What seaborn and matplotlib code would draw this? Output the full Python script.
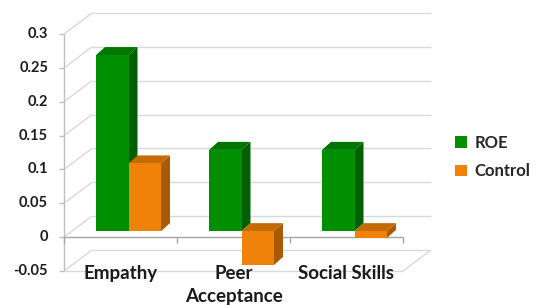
import matplotlib
matplotlib.use("Agg")
import matplotlib.pyplot as plt
import matplotlib.transforms as mtransforms
from matplotlib.patches import Polygon
import seaborn as sns
import pandas as pd

# Mean change scores per outcome
categories = ["Empathy", "Peer\nAcceptance", "Social Skills"]
series = ["ROE", "Control"]
roe = [0.26, 0.12, 0.12]
control = [0.10, -0.05, -0.01]
yticks = [-0.05, 0, 0.05, 0.1, 0.15, 0.2, 0.25, 0.3]
ytick_labels = ["-0.05", "0", "0.05", "0.1", "0.15", "0.2", "0.25", "0.3"]

df = pd.DataFrame({
    "Category": categories * 2,
    "Value": roe + control,
    "Group": [series[0]] * len(roe) + [series[1]] * len(control),
})

front_colors = {"ROE": "#008f00", "Control": "#f0820a"}
side_colors = {"ROE": "#005f00", "Control": "#a85a05"}
top_colors = {"ROE": "#007500", "Control": "#c46a06"}
grid_color = "#d9d9d9"

sns.set_style("white")
plt.rcParams["font.family"] = ["Lato", "DejaVu Sans"]

W, H = 538, 306
fig = plt.figure(figsize=(W / 100, H / 100), dpi=100)
ax = fig.add_axes([72 / W, 41 / H, 339 / W, 237 / H])

sns.barplot(data=df, x="Category", y="Value", hue="Group", palette=front_colors,
            width=0.575, saturation=1, errorbar=None, linewidth=0,
            edgecolor="none", ax=ax)
ax.set_xlim(-0.5, 2.5)
ax.set_ylim(-0.05, 0.3)
ax.set_axis_off()

handles, labels = ax.get_legend_handles_labels()
if ax.get_legend() is not None:
    ax.get_legend().remove()


def plane(dx, dy):
    # pixel offset of a depth plane relative to the bar plane
    return ax.transData + mtransforms.ScaledTranslation(dx / 100, dy / 100, fig.dpi_scale_trans)


front = plane(-8, -6)
back = plane(20, 15)
ident = mtransforms.IdentityTransform()
x0, x1 = -0.5, 2.5
ymin = yticks[0]


def line(p, q, color=grid_color, lw=1.0, z=0.5):
    ax.plot([p[0], q[0]], [p[1], q[1]], color=color, lw=lw, zorder=z,
            transform=ident, clip_on=False, solid_capstyle="butt")


# walls
for t in yticks:
    a = front.transform((x0, t))
    b = back.transform((x0, t))
    c = back.transform((x1, t))
    line(a, b)
    line(b, c)
    line((a[0] - 5, a[1]), a, color="#bfbfbf")

# front axis and floor
line(front.transform((x0, ymin)), front.transform((x0, yticks[-1])), color="#bfbfbf")
line(front.transform((x0, ymin)), front.transform((x1, ymin)))
line(front.transform((x1, ymin)), back.transform((x1, ymin)))
line(front.transform((x0, 0)), front.transform((x1, 0)), color="#a6a6a6", z=1)
for k in range(len(categories) + 1):
    p = front.transform((x0 + k, 0))
    line(p, (p[0], p[1] - 6), color="#a6a6a6", z=1)

# 3D faces of the bars
ddx, ddy = 9, 8
for i, (cont, name) in enumerate(zip(ax.containers, series)):
    for bar in cont:
        bar.set_zorder(3 + 2 * i)
        bx, by = bar.get_x(), bar.get_y()
        bw, bh = bar.get_width(), bar.get_height()
        ytop = max(by, by + bh)
        ybot = min(by, by + bh)
        l, t = ax.transData.transform((bx, ytop))
        r, b = ax.transData.transform((bx + bw, ybot))
        top = Polygon([(l, t), (r, t), (r + ddx, t + ddy), (l + ddx, t + ddy)],
                      closed=True, transform=ident, facecolor=top_colors[name],
                      edgecolor="none", zorder=2 + 2 * i, clip_on=False)
        side = Polygon([(r, b), (r, t), (r + ddx, t + ddy), (r + ddx, b + ddy)],
                       closed=True, transform=ident, facecolor=side_colors[name],
                       edgecolor="none", zorder=2 + 2 * i, clip_on=False)
        ax.add_patch(side)
        ax.add_patch(top)

# labels
for t, lab in zip(yticks, ytick_labels):
    ax.text(x0, t, lab, transform=front + mtransforms.ScaledTranslation(-0.16, 0, fig.dpi_scale_trans),
            ha="right", va="center", fontsize=10.5, fontweight="bold", color="#1a1a1a", clip_on=False)

for k, cat in enumerate(categories):
    ax.text(k, ymin, cat, transform=front + mtransforms.ScaledTranslation(0, 0.06, fig.dpi_scale_trans),
            ha="center", va="top", fontsize=13.5, fontweight="bold", color="#1a1a1a",
            linespacing=1.45, clip_on=False)

fig.legend(handles, labels, loc="center left", bbox_to_anchor=(455 / W, 1 - 157 / H),
           frameon=False, handlelength=0.7, handleheight=0.7,
           handletextpad=0.45, labelspacing=0.75, borderpad=0, borderaxespad=0,
           prop={"weight": "bold", "size": 12})

fig.savefig("out.png", dpi=100)
